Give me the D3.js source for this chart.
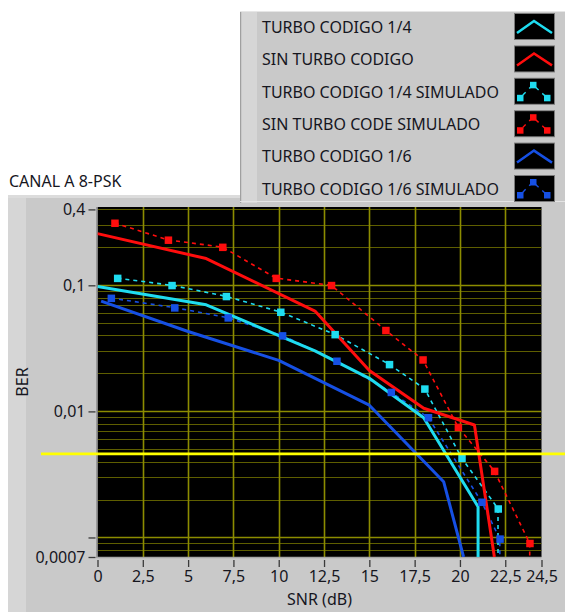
<!DOCTYPE html>
<html>
<head>
<meta charset="utf-8">
<script src="https://cdn.jsdelivr.net/npm/d3@7"></script>
<style>
  html, body { margin: 0; padding: 0; background: #ffffff; }
  svg { display: block; font-family: "Noto Sans", "Open Sans", sans-serif; }
</style>
</head>
<body>
<svg id="chart" width="565" height="612"></svg>
<script>
// ---- Data -------------------------------------------------------------
const chartTitle = "CANAL A 8-PSK";
const xTitle = "SNR (dB)";
const yTitle = "BER";

const seriesNames = [
  "TURBO CODIGO 1/4",
  "SIN TURBO CODIGO",
  "TURBO CODIGO 1/4 SIMULADO",
  "SIN TURBO CODE SIMULADO",
  "TURBO CODIGO 1/6",
  "TURBO CODIGO 1/6 SIMULADO"
];

// Theoretical curves (SNR in dB, BER). A BER of 0 falls to the floor of the log axis.
const turbo14SNR = [0, 6, 12, 15, 18, 21, 21];
const turbo14BER = [0.098, 0.070, 0.0302, 0.0183, 0.0089, 0.00175, 0];
const sinTurboSNR = [0, 6, 12, 15, 18, 20.8, 21.9];
const sinTurboBER = [0.257, 0.163, 0.0625, 0.0211, 0.0106, 0.0078, 0.0007];
const turbo16SNR = [0.2, 5, 10, 15, 19.1, 20.2];
const turbo16BER = [0.075, 0.043, 0.0254, 0.0112, 0.00277, 0.0007];

// Simulated results
const turbo14SimSNR = [1.1, 4.1, 7.1, 10.1, 13.1, 16.1, 18.05, 20.1, 22.1, 22.1];
const turbo14SimBER = [0.114, 0.100, 0.0818, 0.0614, 0.0408, 0.0236, 0.0151, 0.00426, 0.00169, 0];
const sinTurboSimSNR = [0.95, 3.9, 6.9, 9.85, 12.9, 15.9, 17.95, 19.9, 21.9, 23.85, 23.85];
const sinTurboSimBER = [0.312, 0.229, 0.201, 0.114, 0.1, 0.044, 0.0257, 0.0075, 0.00336, 0.0009, 0];
const turbo16SimSNR = [0.75, 4.25, 7.2, 10.2, 13.2, 16.2, 18.25, 21.2, 22.2, 22.2];
const turbo16SimBER = [0.0792, 0.0665, 0.0554, 0.0399, 0.0251, 0.0142, 0.00895, 0.00191, 0.000975, 0];

// Reference BER level (cursor)
const berTarget = 0.0046;

// Axes
const xDomain = [0, 24.5];
const yDomain = [0.0007, 0.418];
const xTicks = [0, 2.5, 5, 7.5, 10, 12.5, 15, 17.5, 20, 22.5, 24.5];
const xTickLabels = ["0", "2,5", "5", "7,5", "10", "12,5", "15", "17,5", "20", "22,5", "24,5"];
const xGrid = [2.5, 5, 7.5, 10, 12.5, 15, 17.5, 20, 22.5];
const yTicks = [0.4, 0.1, 0.01, 0.001, 0.0007];
const yTickLabels = ["0,4", "0,1", "0,01", "", "0,0007"];

// ---- Layout ----------------------------------------------------------
const W = 565, H = 612;
const plot = { left: 97.5, right: 541.5, top: 207, bottom: 557 };
const fontSize = 16;

const colors = {
  cyan: "#1fdcf0",
  red: "#ff0d0d",
  blue: "#1650e4",
  gridMajor: "#8c8c00",
  gridMinor: "#5e5e00",
  panel: "#c9c9c9",
  panelLight: "#d6d6d6",
  text: "#16161e"
};

const svg = d3.select("#chart");

const x = d3.scaleLinear().domain(xDomain).range([plot.left, plot.right]);
const y = d3.scaleLog().domain(yDomain).range([plot.bottom, plot.top]);

// ---- Frames ------------------------------------------------------------
svg.append("rect").attr("x", 8).attr("y", 195).attr("width", W - 8).attr("height", H - 195)
  .attr("fill", colors.panel);
svg.append("rect").attr("x", 8).attr("y", 195).attr("width", 18).attr("height", H - 195)
  .attr("fill", colors.panelLight);
svg.append("rect").attr("x", 8).attr("y", 195).attr("width", W - 8).attr("height", 3)
  .attr("fill", "#dcdcdc");

svg.append("text").attr("x", 9).attr("y", 187)
  .attr("font-size", fontSize).attr("fill", colors.text).text(chartTitle);

// ---- Plot area ------------------------------------------------------------
svg.append("rect")
  .attr("x", plot.left).attr("y", plot.top)
  .attr("width", plot.right - plot.left).attr("height", plot.bottom - plot.top)
  .attr("fill", "#000");

svg.append("defs").append("clipPath").attr("id", "plotClip")
  .append("rect")
  .attr("x", plot.left).attr("y", plot.top)
  .attr("width", plot.right - plot.left).attr("height", plot.bottom - plot.top);

const gGrid = svg.append("g").attr("clip-path", "url(#plotClip)");

// Horizontal grid: every 1..9 x 10^k, decades brighter
const minorVals = [];
for (let e = -4; e <= 0; e++) {
  for (let m = 1; m <= 9; m++) {
    const v = m * Math.pow(10, e);
    if (v >= yDomain[0] && v <= yDomain[1]) minorVals.push({ v, major: m === 1 });
  }
}
gGrid.selectAll("line.hgrid").data(minorVals).join("line")
  .attr("class", "hgrid")
  .attr("x1", plot.left).attr("x2", plot.right)
  .attr("y1", d => Math.round(y(d.v)) + 0.5).attr("y2", d => Math.round(y(d.v)) + 0.5)
  .attr("stroke", d => d.major ? colors.gridMajor : colors.gridMinor)
  .attr("stroke-width", d => d.major ? 1.6 : 1.2);

gGrid.selectAll("line.vgrid").data(xGrid).join("line")
  .attr("class", "vgrid")
  .attr("x1", d => Math.round(x(d)) + 0.5).attr("x2", d => Math.round(x(d)) + 0.5)
  .attr("y1", plot.top).attr("y2", plot.bottom)
  .attr("stroke", colors.gridMajor).attr("stroke-width", 1.6);

// Plot border (left and bottom)
svg.append("line").attr("x1", plot.left - 0.5).attr("x2", plot.left - 0.5)
  .attr("y1", plot.top).attr("y2", plot.bottom + 1).attr("stroke", "#8a8a8a").attr("stroke-width", 1.5);
svg.append("line").attr("x1", plot.left - 1).attr("x2", plot.right)
  .attr("y1", plot.bottom + 0.5).attr("y2", plot.bottom + 0.5).attr("stroke", "#a8a8a8").attr("stroke-width", 1.5);

// ---- Axes ------------------------------------------------------------------
const yAxis = d3.axisLeft(y).tickValues(yTicks)
  .tickFormat((d, i) => yTickLabels[i]).tickSize(7).tickPadding(3);
const gy = svg.append("g").attr("transform", `translate(${plot.left - 2},0)`).call(yAxis);
gy.select(".domain").remove();
gy.selectAll(".tick line").attr("stroke", "#3a3a3a").attr("stroke-width", 1.3);
gy.selectAll(".tick text").attr("font-size", fontSize).attr("fill", colors.text)
  .attr("font-family", "\"Noto Sans\", sans-serif");

const xAxis = d3.axisBottom(x).tickValues(xTicks)
  .tickFormat((d, i) => xTickLabels[i]).tickSize(7).tickPadding(4);
const gx = svg.append("g").attr("transform", `translate(0,${plot.bottom + 3})`).call(xAxis);
gx.select(".domain").remove();
gx.selectAll(".tick line").attr("stroke", "#3a3a3a").attr("stroke-width", 1.3);
gx.selectAll(".tick text").attr("font-size", fontSize).attr("fill", colors.text)
  .attr("font-family", "\"Noto Sans\", sans-serif");

svg.append("text")
  .attr("x", (plot.left + plot.right) / 2).attr("y", 605)
  .attr("text-anchor", "middle").attr("font-size", fontSize).attr("fill", colors.text)
  .text(xTitle);

svg.append("text")
  .attr("transform", `translate(28,${(plot.top + plot.bottom) / 2}) rotate(-90)`)
  .attr("text-anchor", "middle").attr("font-size", fontSize).attr("fill", colors.text)
  .text(yTitle);

// ---- Series --------------------------------------------------------------
const floorY = plot.bottom + 4; // zero BER drops below the axis floor
const toPoints = (xs, ys) => xs.map((v, i) => ({ x: v, y: ys[i] }));
const line = d3.line()
  .x(d => x(d.x))
  .y(d => d.y > 0 ? y(d.y) : floorY);

const gSeries = svg.append("g").attr("clip-path", "url(#plotClip)");

const simulated = [
  { pts: toPoints(sinTurboSimSNR, sinTurboSimBER), color: colors.red },
  { pts: toPoints(turbo14SimSNR, turbo14SimBER), color: colors.cyan },
  { pts: toPoints(turbo16SimSNR, turbo16SimBER), color: colors.blue }
];
const theoretical = [
  { pts: toPoints(turbo16SNR, turbo16BER), color: colors.blue },
  { pts: toPoints(turbo14SNR, turbo14BER), color: colors.cyan },
  { pts: toPoints(sinTurboSNR, sinTurboBER), color: colors.red }
];

simulated.forEach(s => {
  gSeries.append("path").datum(s.pts)
    .attr("d", line).attr("fill", "none")
    .attr("stroke", s.color).attr("stroke-width", 1.6)
    .attr("stroke-dasharray", "4,4");
});

theoretical.forEach(s => {
  gSeries.append("path").datum(s.pts)
    .attr("d", line).attr("fill", "none")
    .attr("stroke", s.color).attr("stroke-width", 3)
    .attr("stroke-linejoin", "round");
});

simulated.forEach(s => {
  gSeries.selectAll(null).data(s.pts.filter(d => d.y > 0)).join("rect")
    .attr("x", d => x(d.x) - 3.5).attr("y", d => y(d.y) - 3.5)
    .attr("width", 7.5).attr("height", 7.5)
    .attr("fill", s.color);
});

// Reference BER cursor line
svg.append("line")
  .attr("x1", 41).attr("x2", W)
  .attr("y1", y(berTarget)).attr("y2", y(berTarget))
  .attr("stroke", "#ffff00").attr("stroke-width", 2.6);

// ---- Legend ------------------------------------------------------------------
const legend = { left: 240, top: 11, right: W, bottom: 203 };
const gl = svg.append("g");
gl.append("rect").attr("x", legend.left).attr("y", legend.top)
  .attr("width", legend.right - legend.left).attr("height", legend.bottom - legend.top)
  .attr("fill", colors.panel);
gl.append("rect").attr("x", legend.left + 2).attr("y", legend.top)
  .attr("width", 15).attr("height", legend.bottom - legend.top)
  .attr("fill", colors.panelLight);
gl.append("line").attr("x1", legend.left + 0.5).attr("x2", legend.left + 0.5)
  .attr("y1", legend.top).attr("y2", legend.bottom).attr("stroke", "#a0a0a0");
gl.append("line").attr("x1", legend.left).attr("x2", legend.right)
  .attr("y1", legend.top + 0.5).attr("y2", legend.top + 0.5).attr("stroke", "#e6e6e6");
gl.append("line").attr("x1", legend.left).attr("x2", legend.right)
  .attr("y1", legend.bottom - 1.5).attr("y2", legend.bottom - 1.5).attr("stroke", "#e4e4e4");

const legendStyles = [
  { color: colors.cyan, sim: false },
  { color: colors.red, sim: false },
  { color: colors.cyan, sim: true },
  { color: colors.red, sim: true },
  { color: colors.blue, sim: false },
  { color: colors.blue, sim: true }
];

const rowStep = 32.4, firstRow = 27;
seriesNames.forEach((name, i) => {
  const cy = firstRow + i * rowStep;
  const st = legendStyles[i];
  gl.append("text").attr("x", 262).attr("y", cy + 5.8)
    .attr("font-size", fontSize).attr("fill", colors.text).text(name);

  const bx = 515, by = cy - 13, bw = 39, bh = 25;
  gl.append("rect").attr("x", bx - 1).attr("y", by - 1).attr("width", bw + 2).attr("height", bh + 2)
    .attr("fill", "#7a7a7a");
  gl.append("rect").attr("x", bx).attr("y", by).attr("width", bw).attr("height", bh)
    .attr("fill", "#000");
  if (!st.sim) {
    gl.append("polyline")
      .attr("points", `${bx + 2},${by + 19} ${bx + 19},${by + 7} ${bx + 37},${by + 19}`)
      .attr("fill", "none").attr("stroke", st.color).attr("stroke-width", 2.5);
  } else {
    const pts = [[bx + 5, by + 19], [bx + 18, by + 6], [bx + 32, by + 19]];
    gl.append("polyline")
      .attr("points", pts.map(p => p.join(",")).join(" "))
      .attr("fill", "none").attr("stroke", st.color).attr("stroke-width", 1.4)
      .attr("stroke-dasharray", "4,5").attr("stroke-dashoffset", -4);
    pts.forEach(p => {
      gl.append("rect").attr("x", p[0] - 3).attr("y", p[1] - 3)
        .attr("width", 6.5).attr("height", 6.5).attr("fill", st.color);
    });
  }
});
</script>
</body>
</html>
